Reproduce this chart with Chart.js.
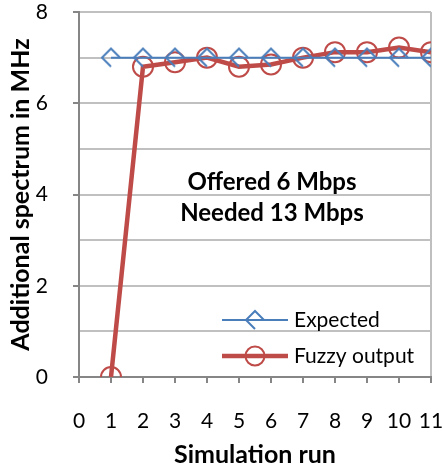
<!DOCTYPE html>
<html>
<head>
<meta charset="utf-8">
<script src="https://cdn.jsdelivr.net/npm/chart.js@4/dist/chart.umd.min.js"></script>
<style>
  html, body { margin: 0; padding: 0; background: #fff; }
  #wrap { width: 443px; height: 473px; }
</style>
</head>
<body>
<div id="wrap"><canvas id="c" width="443" height="473"></canvas></div>
<script>
// Simulation runs and the spectrum values per run (MHz)
const runs = [1, 2, 3, 4, 5, 6, 7, 8, 9, 10, 11];
const expected = [7, 7, 7, 7, 7, 7, 7, 7, 7, 7, 7];
const fuzzyOutput = [0, 6.8, 6.9, 7.0, 6.8, 6.85, 7.0, 7.12, 7.12, 7.22, 7.12];
const seriesNames = ['Expected', 'Fuzzy output'];
const noteLines = ['Offered 6 Mbps', 'Needed 13 Mbps'];
const xTitle = 'Simulation run';
const yTitle = 'Additional spectrum in MHz';

const BLUE = '#4a7ebb';
const RED = '#be4b48';
const FONT = 'Lato, "Open Sans", sans-serif';

// Open diamond marker with its lower-right edge left out
function diamondMarker(r, color, lw) {
  const c = document.createElement('canvas');
  const s = Math.ceil(2 * r + lw * 2);
  c.width = s; c.height = s;
  const g = c.getContext('2d');
  const m = s / 2;
  g.strokeStyle = color; g.lineWidth = lw; g.lineJoin = 'miter';
  g.beginPath();
  g.moveTo(m, m + r);
  g.lineTo(m - r, m);
  g.lineTo(m, m - r);
  g.lineTo(m + r, m);
  g.stroke();
  return c;
}
const diamond = diamondMarker(9, BLUE, 2);

const pts = (ys) => runs.map((x, i) => ({ x, y: ys[i] }));

// Text note placed in data coordinates + legend with line samples
const extras = {
  id: 'extras',
  afterDatasetsDraw(chart) {
    const { ctx, scales: { x, y }, chartArea } = chart;
    ctx.save();
    ctx.fillStyle = '#000';
    ctx.font = 'bold 24px ' + FONT;
    ctx.textAlign = 'center';
    ctx.textBaseline = 'middle';
    ctx.fillText(noteLines[0], x.getPixelForValue(6.03), y.getPixelForValue(4.26));
    ctx.fillText(noteLines[1], x.getPixelForValue(6.03), y.getPixelForValue(3.58));

    // legend
    const lx0 = chartArea.left + 143, lx1 = lx0 + 66;
    const rows = [chartArea.top + 308, chartArea.top + 344];
    ctx.font = '21px ' + FONT;
    ctx.textAlign = 'left';
    // Expected
    ctx.strokeStyle = BLUE; ctx.lineWidth = 2;
    ctx.beginPath(); ctx.moveTo(lx0, rows[0]); ctx.lineTo(lx1, rows[0]); ctx.stroke();
    ctx.drawImage(diamond, (lx0 + lx1) / 2 - diamond.width / 2, rows[0] - diamond.height / 2);
    ctx.fillText(seriesNames[0], lx1 + 6, rows[0]);
    // Fuzzy output
    ctx.strokeStyle = RED; ctx.lineWidth = 4.5;
    ctx.beginPath(); ctx.moveTo(lx0, rows[1]); ctx.lineTo(lx1, rows[1]); ctx.stroke();
    ctx.lineWidth = 2;
    ctx.beginPath(); ctx.arc((lx0 + lx1) / 2, rows[1], 9.5, 0, Math.PI * 2); ctx.stroke();
    ctx.fillText(seriesNames[1], lx1 + 6, rows[1]);
    ctx.restore();
  }
};

new Chart(document.getElementById('c'), {
  type: 'line',
  data: {
    datasets: [
      {
        label: seriesNames[0],
        data: pts(expected),
        borderColor: BLUE,
        borderWidth: 2,
        pointStyle: diamond,
        pointRadius: 9,
        pointHoverRadius: 9,
        tension: 0
      },
      {
        label: seriesNames[1],
        data: pts(fuzzyOutput),
        borderColor: RED,
        borderWidth: 4.5,
        pointStyle: 'circle',
        pointRadius: 10,
        pointHoverRadius: 10,
        pointBorderWidth: 2,
        pointBorderColor: RED,
        pointBackgroundColor: 'rgba(0,0,0,0)',
        tension: 0
      }
    ]
  },
  options: {
    responsive: false,
    animation: false,
    events: [],
    layout: { padding: 0 },
    plugins: { legend: { display: false }, tooltip: { enabled: false } },
    scales: {
      x: {
        type: 'linear',
        min: 0, max: 11,
        afterFit(s) { s.height = 96; s.paddingLeft = 0; s.paddingRight = 10; },
        ticks: { stepSize: 1, padding: 26, color: '#000', font: { family: FONT, size: 21 } },
        grid: {
          color: (c) => c.tick && c.tick.value === 11 ? '#bfbfbf' : 'rgba(0,0,0,0)',
          lineWidth: 2,
          tickColor: '#868686',
          tickLength: 6
        },
        border: { color: '#868686', width: 2 },
        title: { display: true, text: xTitle, color: '#000', font: { family: FONT, size: 25, weight: 'bold' }, padding: { top: 0, bottom: 3 } }
      },
      y: {
        min: 0, max: 8,
        afterFit(s) { s.width = 79; s.paddingTop = 11; s.paddingBottom = 0; },
        ticks: {
          stepSize: 1, padding: 25, color: '#000',
          font: { family: FONT, size: 21 },
          callback: (v) => (v % 2 === 0 ? String(v) : '')
        },
        grid: {
          color: '#c0c0c0',
          lineWidth: 2,
          tickColor: (c) => c.tick && c.tick.value % 2 === 0 ? '#868686' : 'rgba(0,0,0,0)',
          tickLength: 6
        },
        border: { color: '#868686', width: 2 },
        title: { display: true, text: yTitle, color: '#000', font: { family: FONT, size: 25, weight: 'bold' }, padding: { top: 6, bottom: 0 } }
      }
    }
  },
  plugins: [extras]
});
</script>
</body>
</html>
